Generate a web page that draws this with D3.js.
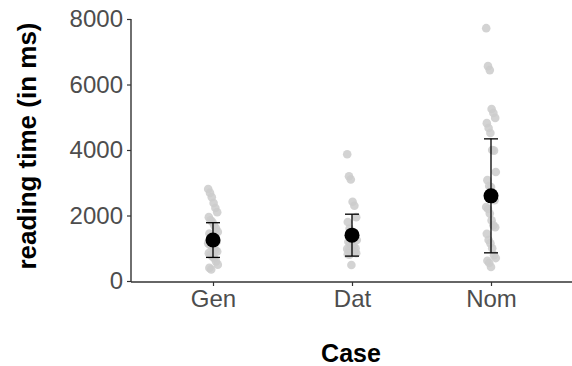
<!DOCTYPE html>
<html>
<head>
<meta charset="utf-8">
<script src="https://cdn.jsdelivr.net/npm/d3@7"></script>
<style>
  body { margin: 0; background: #fff; overflow: hidden; }
  svg { display: block; font-family: "Liberation Sans", Arial, sans-serif; }
</style>
</head>
<body>
<div id="chart"></div>
<script>
// categories and summary stats (mean +/- sd)
const cases = ["Gen", "Dat", "Nom"];
const means = [1250, 1400, 2600];
const sds = [530, 640, 1740];

// individual reading times per case
const genTimes = [2810, 2690, 2560, 2380, 2230, 2100, 1950, 1850, 1800, 1700, 1600, 1500, 1450,
  1350, 1300, 1250, 1200, 1150, 1100, 1050, 1000, 950, 900, 850, 800, 750, 700, 600, 500, 400, 350];
const datTimes = [3870, 3200, 3100, 2420, 2300, 1950, 1800, 1600, 1500, 1400, 1300, 1250, 1200,
  1150, 1100, 1050, 1000, 980, 950, 920, 900, 880, 850, 820, 800, 490];
const nomTimes = [7720, 6560, 6440, 5250, 5130, 4980, 4820, 4670, 4520, 4000, 3980, 3330, 3080,
  2900, 2870, 2690, 2470, 2260, 2200, 2060, 1850, 1700, 1640, 1440, 1250, 1150, 1000, 790, 700,
  620, 550, 430];
const yTicks = [0, 2000, 4000, 6000, 8000];

const width = 572, height = 366;
const svg = d3.select("#chart").append("svg")
  .attr("width", width)
  .attr("height", height);

const x = d3.scalePoint().domain(cases).range([213, 491]);
const y = d3.scaleLinear().domain([0, 8000]).range([281, 19]);

// raw points, small fixed horizontal spread
const points = [];
[genTimes, datTimes, nomTimes].forEach((arr, k) => {
  arr.forEach((v, i) => points.push({ c: cases[k], v: v, j: ((i * 37) % 17 - 8) * 0.6 }));
});

svg.append("g")
  .selectAll("circle")
  .data(points)
  .join("circle")
  .attr("cx", d => x(d.c) + d.j)
  .attr("cy", d => y(d.v))
  .attr("r", 4.3)
  .attr("fill", "#cbcbcb")
  .attr("fill-opacity", 0.85);

// error bars
const summary = cases.map((c, i) => ({ c: c, m: means[i], sd: sds[i] }));
const eb = svg.append("g").attr("stroke", "#000").attr("stroke-width", 1.3);
eb.selectAll(".v").data(summary).join("line")
  .attr("x1", d => x(d.c)).attr("x2", d => x(d.c))
  .attr("y1", d => y(d.m - d.sd)).attr("y2", d => y(d.m + d.sd));
eb.selectAll(".top").data(summary).join("line")
  .attr("x1", d => x(d.c) - 7).attr("x2", d => x(d.c) + 7)
  .attr("y1", d => y(d.m + d.sd)).attr("y2", d => y(d.m + d.sd));
eb.selectAll(".bot").data(summary).join("line")
  .attr("x1", d => x(d.c) - 7).attr("x2", d => x(d.c) + 7)
  .attr("y1", d => y(d.m - d.sd)).attr("y2", d => y(d.m - d.sd));

svg.append("g")
  .selectAll("circle")
  .data(summary)
  .join("circle")
  .attr("cx", d => x(d.c))
  .attr("cy", d => y(d.m))
  .attr("r", 7.5)
  .attr("fill", "#000");

// axes
const yAxis = svg.append("g")
  .attr("transform", "translate(131,0)")
  .call(d3.axisLeft(y).tickValues(yTicks).tickSize(4).tickPadding(4).tickFormat(d3.format("d")));
const xAxis = svg.append("g")
  .attr("transform", "translate(0,282)")
  .call(d3.axisBottom(x).tickSize(4).tickPadding(4));

xAxis.select(".domain").attr("d", "M131,0H572");
yAxis.select(".domain").attr("d", "M0,282V19");
[xAxis, yAxis].forEach(a => {
  a.selectAll(".domain").attr("stroke", "#333").attr("stroke-width", 1.4);
  a.selectAll(".tick line").attr("stroke", "#333").attr("stroke-width", 1.2);
  a.selectAll(".tick text")
    .attr("fill", "#4d4d4d")
    .style("font-size", "24px")
    .style("font-family", "Liberation Sans, Arial, sans-serif");
});

// titles
svg.append("text")
  .attr("x", 351)
  .attr("y", 362)
  .attr("text-anchor", "middle")
  .style("font-size", "25px")
  .style("font-weight", "bold")
  .text("Case");

svg.append("text")
  .attr("transform", "translate(36,146) rotate(-90)")
  .attr("text-anchor", "middle")
  .style("font-size", "26px")
  .style("font-weight", "bold")
  .text("reading time (in ms)");
</script>
</body>
</html>
